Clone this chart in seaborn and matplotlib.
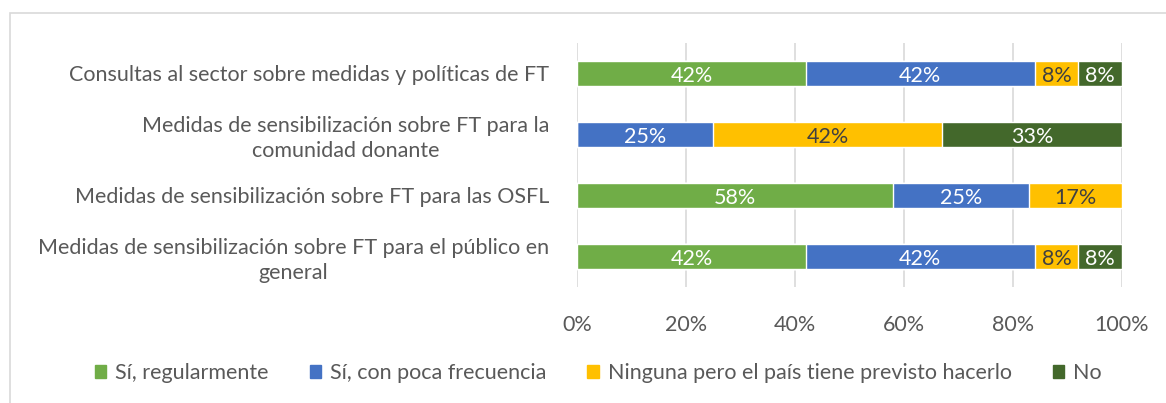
import matplotlib.pyplot as plt
import matplotlib.patches as mpatches
import numpy as np
import pandas as pd
import seaborn as sns

# data (percent)
categories = [
    "Consultas al sector sobre medidas y políticas de FT",
    "Medidas de sensibilización sobre FT para la\ncomunidad donante",
    "Medidas de sensibilización sobre FT para las OSFL",
    "Medidas de sensibilización sobre FT para el público en\ngeneral",
]
series = ["Sí, regularmente", "Sí, con poca frecuencia",
          "Ninguna pero el país tiene previsto hacerlo", "No"]
si_regular = [42, 0, 58, 42]
si_poca = [42, 25, 25, 42]
ninguna = [8, 42, 17, 8]
no = [8, 33, 0, 8]
colors = ["#70AD47", "#4472C4", "#FFC000", "#43682B"]
label_colors = ["white", "white", "#404040", "white"]

sns.set_theme(style="white")
plt.rcParams["font.family"] = ["Lato", "DejaVu Sans"]
text_color = "#595959"
fs = 15.5

values = np.array([si_regular, si_poca, ninguna, no], dtype=float)
cum = values.cumsum(axis=0)

fig = plt.figure(figsize=(11.66, 4.03), dpi=100)
ax = fig.add_axes([577 / 1166, 1 - 287 / 403, (1122 - 577) / 1166, 244 / 403])

# stacked bars by overlaying cumulative totals, widest first
for i in range(len(series) - 1, -1, -1):
    df = pd.DataFrame({"cat": categories, "val": cum[i]})
    sns.barplot(data=df, x="val", y="cat", orient="h", color=colors[i],
                saturation=1, width=0.41, ax=ax, order=categories)

for i in range(len(series)):
    for j in range(len(categories)):
        v = values[i, j]
        if v > 0:
            ax.text(cum[i, j] - v / 2, j + 0.04, f"{int(v)}%", ha="center", va="center",
                    color=label_colors[i], fontsize=fs)

ax.set_xlim(0, 100)
ax.set_ylim(3.5, -0.5)
ax.set_xticks([0, 20, 40, 60, 80, 100])
ax.set_xticklabels([f"{t}%" for t in range(0, 101, 20)])
ax.xaxis.grid(True, color="#D9D9D9", linewidth=1.2)
ax.set_axisbelow(True)
for s in ax.spines.values():
    s.set_visible(False)
ax.set_xlabel("")
ax.set_ylabel("")
ax.tick_params(axis="x", colors=text_color, labelsize=fs, length=0, pad=20)
ax.tick_params(axis="y", colors=text_color, labelsize=fs, length=0, pad=20)
for lbl in ax.get_yticklabels():
    lbl.set_multialignment("center")
    lbl.set_linespacing(1.3)

handles = [mpatches.Patch(color=c, label=s) for c, s in zip(colors, series)]
leg = fig.legend(handles=handles, loc="center", bbox_to_anchor=(0.513, 0.074), ncol=4,
                 frameon=False, fontsize=fs, handlelength=0.55, handleheight=0.55,
                 handletextpad=0.4, columnspacing=1.9)
for t in leg.get_texts():
    t.set_color(text_color)

fig.patches.append(mpatches.Rectangle((10 / 1166, -0.05), 1.1, 1 - 13 / 403 + 0.05,
                                      transform=fig.transFigure, fill=False,
                                      edgecolor="#D9D9D9", linewidth=1.2))

fig.savefig("out.png", dpi=100)
